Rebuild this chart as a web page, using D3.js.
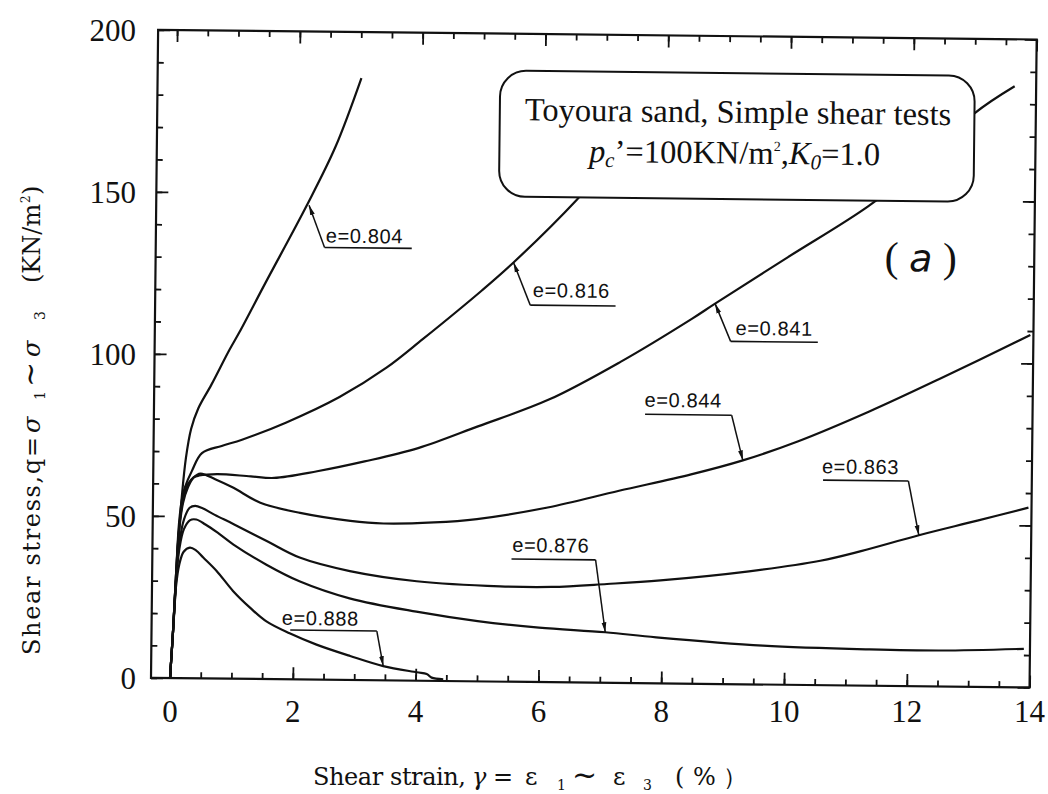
<!DOCTYPE html>
<html><head><meta charset="utf-8">
<script src="https://cdn.jsdelivr.net/npm/d3@7"></script>
<style>body{margin:0;background:#fff}</style>
</head><body>
<svg id="chart" width="1048" height="794"></svg>
<script>
// ---------- data ----------
const xTicks = [0, 2, 4, 6, 8, 10, 12, 14];
const yTicks = [0, 50, 100, 150, 200];
const xMinor = [0,0.5,1,1.5,2,2.5,3,3.5,4,4.5,5,5.5,6,6.5,7,7.5,8,8.5,9,9.5,10,10.5,11,11.5,12,12.5,13,13.5,14];
const yMinor = [0,10,20,30,40,50,60,70,80,90,100,110,120,130,140,150,160,170,180,190,200];

const seriesNames = ["e=0.804", "e=0.816", "e=0.841", "e=0.844", "e=0.863", "e=0.876", "e=0.888"];

const e0804 = [[0,0],[0.04,14],[0.07,25],[0.11,42],[0.16,56],[0.22,68],[0.3,77],[0.41,83.2],[0.62,90.6],[0.91,101.5],[1.07,107],[1.49,122.5],[2.14,146.2],[2.6,164.5],[3.01,185.8]];
const e0816 = [[0,0],[0.04,14],[0.08,32],[0.12,48],[0.17,56],[0.21,59],[0.32,64],[0.48,69.5],[0.8,71.8],[1.13,73.8],[1.84,79.2],[2.71,87.3],[3.47,96.5],[4.06,105.5],[5.0,120.5],[5.52,129.4],[6.54,149],[7.3,166]];
const e0841 = [[0,0],[0.04,14],[0.08,32],[0.12,46],[0.18,55],[0.26,60],[0.35,62],[0.44,62.6],[0.73,63.1],[1.28,62.5],[1.66,62.1],[2.36,64.3],[3.13,67.5],[4.0,71.8],[4.97,78.7],[6.12,87.2],[7.28,99.1],[8.44,112.7],[8.81,117.4],[9.99,132],[11.29,148],[12.2,162],[13.0,177],[13.65,185.5]];
const e0844 = [[0,0],[0.04,14],[0.08,32],[0.12,45],[0.18,54],[0.26,59],[0.35,62],[0.46,63.2],[0.7,61.5],[1.0,58.9],[1.44,54.4],[2.09,51.4],[2.91,49.1],[3.45,48.4],[4.27,48.9],[4.97,50.1],[6.12,53.9],[7.28,59.3],[8.45,64.6],[9.29,69.1],[10.19,75.2],[11.35,84.7],[12.51,95.2],[13.95,108.8]];
const e0863 = [[0,0],[0.04,14],[0.08,30],[0.13,42],[0.2,49],[0.29,52.6],[0.38,53.2],[0.5,52.5],[0.7,50.5],[1.01,47.7],[1.55,42.6],[2.09,37.6],[2.91,33.6],[4.0,30.7],[5.36,29.4],[6.2,29.4],[7.1,30.5],[7.97,31.8],[9.41,34.9],[10.57,38.4],[11.23,41.5],[12.17,46.6],[13.12,51.3],[13.95,55.5]];
const e0876 = [[0,0],[0.04,14],[0.08,30],[0.13,40],[0.2,46],[0.3,48.8],[0.4,49],[0.55,47.5],[0.75,45],[1.01,41.4],[1.55,35.3],[2.09,30.3],[2.91,25.2],[4.0,21.3],[5.0,18.6],[6.0,16.8],[7.08,15.6],[7.91,14.2],[9.65,12.0],[11.39,11.2],[12.55,11.1],[13.9,11.9]];
const e0888 = [[0,0],[0.04,14],[0.08,28],[0.13,35],[0.2,39],[0.3,40.3],[0.4,39.5],[0.52,37.3],[0.74,33.2],[1.01,27.1],[1.29,22],[1.56,17.8],[1.94,14.2],[2.38,10.8],[2.93,7.4],[3.47,4.4],[4.02,2.6],[4.18,2.1],[4.26,1.0],[4.45,0.5]];
const seriesData = [e0804, e0816, e0841, e0844, e0863, e0876, e0888];

// annotation labels: text anchor [x, baseline y], underline [x1, x2, y], arrow start side, arrow tip
const annTextAt = [[2.46,134.9],[5.84,118.8],[9.15,107.8],[7.68,85.3],[10.58,65.4],[5.55,40.1],[1.81,16.8]];
const annUnderline = [[2.44,3.86,133.4],[5.80,7.19,116.3],[9.07,10.49,105.8],[7.69,9.10,83.0],[10.6,11.99,63.3],[5.54,6.91,37.9],[1.95,3.36,15.2]];
const annArrowSide = ["left","left","left","right","right","right","right"];
const annTips = [[2.18,146.4],[5.52,129.4],[8.81,117.4],[9.29,69.1],[12.17,46.6],[7.08,15.6],[3.47,4.4]];

// legend box
const boxCorners = [[5.27,188.6],[13.0,149.7]];
const boxLine1 = "Toyoura sand, Simple shear tests";
const boxLine1At = [9.15,173.3];
const boxLine2At = [9.1,160.7];
const panelTag = "a";
const panelTagAt = [12.15,128];

// axis title pieces: [text, offset along text (px), size, baseline shift, italic]
const xTitlePieces = [["Shear strain,",0,24,0,0,153],["γ",159,24,0,1],["=",180,24,0,0],["ε",212,24,0,0],["1",244,14,5,0],["~",259,30,0,0],["ε",300,24,0,0],["3",330,14,5,0],["(",362,24,0,0],["%",380,24,0,0],["）",410,24,0,0]];
const yTitlePieces = [["Shear stress,q=",0,24,0,0,218],["σ",222,24,0,1],["1",255,14,5,0],["~",268,30,0,0],["σ",298,24,0,1],["3",335,14,5,0],["(KN/m",372,24,0,0],["2",452,12,-10,0],[")",460,24,0,0]];

// ---------- drawing ----------
const svg = d3.select("#chart");
const x = d3.scaleLinear().domain([0,14]).range([170, 1029.6]);
const y = d3.scaleLinear().domain([0,200]).range([678, 30]);
const frameLeft = 151;
const ink = "#111";
const serif = "'Liberation Serif', 'Times New Roman', serif";

svg.append("defs").append("marker")
  .attr("id","ah").attr("viewBox","0 0 10 6").attr("refX",10).attr("refY",3)
  .attr("markerWidth",10).attr("markerHeight",6).attr("markerUnits","userSpaceOnUse")
  .attr("orient","auto")
  .append("path").attr("d","M0,0.6 L10,3 L0,5.4 Z").attr("fill",ink);

const g = svg.append("g").attr("transform", "rotate(0.63,170,678)");

function styleAxis(sel){
  sel.select(".domain").remove();
  sel.selectAll("line").attr("stroke",ink).attr("stroke-width",1.8);
  sel.selectAll("text").remove();
}
function tickPair(axisGen, tr){
  g.append("g").attr("transform",tr).call(axisGen.tickValues(xMinor).tickSize(-6).tickFormat("")).call(styleAxis);
}
// bottom/top
[[d3.axisBottom, y(0)], [d3.axisTop, y(200)]].forEach(([gen, ty]) => {
  g.append("g").attr("transform",`translate(0,${ty})`)
    .call(gen(x).tickValues(xMinor).tickSize(-6)).call(styleAxis);
  g.append("g").attr("transform",`translate(0,${ty})`)
    .call(gen(x).tickValues(xTicks).tickSize(-12)).call(styleAxis);
});
// left/right
[[d3.axisLeft, frameLeft], [d3.axisRight, x(14)]].forEach(([gen, tx]) => {
  g.append("g").attr("transform",`translate(${tx},0)`)
    .call(gen(y).tickValues(yMinor).tickSize(-6)).call(styleAxis);
  g.append("g").attr("transform",`translate(${tx},0)`)
    .call(gen(y).tickValues(yTicks).tickSize(-12)).call(styleAxis);
});

// frame
g.append("rect").attr("x",frameLeft).attr("y",y(200))
  .attr("width",x(14)-frameLeft).attr("height",y(0)-y(200))
  .attr("fill","none").attr("stroke",ink).attr("stroke-width",2.2);

// tick labels (upright)
svg.append("g").selectAll("text").data(xTicks).join("text")
  .attr("x",d=>x(d)).attr("y",722).attr("text-anchor","middle")
  .attr("font-family",serif).attr("font-size",31).attr("fill",ink).text(d=>d);
svg.append("g").selectAll("text").data(yTicks).join("text")
  .attr("x",frameLeft-15).attr("y",d=>y(d)).attr("dy","0.34em").attr("text-anchor","end")
  .attr("font-family",serif).attr("font-size",31).attr("fill",ink).text(d=>d);

// curves
const line = d3.line().x(d=>x(d[0])).y(d=>y(d[1])).curve(d3.curveCatmullRom.alpha(0.5));
g.selectAll("path.curve").data(seriesData).join("path")
  .attr("class","curve").attr("d",line)
  .attr("fill","none").attr("stroke",ink).attr("stroke-width",2.2)
  .attr("stroke-linejoin","round");

// annotations
const ann = g.selectAll("g.ann").data(seriesNames).join("g").attr("class","ann");
ann.append("text")
  .attr("x",(d,i)=>x(annTextAt[i][0])).attr("y",(d,i)=>y(annTextAt[i][1]))
  .attr("font-family","'Liberation Sans', Arial, sans-serif").attr("font-size",20)
  .attr("letter-spacing",0.6).attr("fill",ink).text(d=>d);
ann.append("line")
  .attr("x1",(d,i)=>x(annUnderline[i][0])).attr("x2",(d,i)=>x(annUnderline[i][1]))
  .attr("y1",(d,i)=>y(annUnderline[i][2])).attr("y2",(d,i)=>y(annUnderline[i][2]))
  .attr("stroke",ink).attr("stroke-width",1.6);
ann.append("line")
  .attr("x1",(d,i)=>x(annArrowSide[i]==="left"?annUnderline[i][0]:annUnderline[i][1]))
  .attr("y1",(d,i)=>y(annUnderline[i][2]))
  .attr("x2",(d,i)=>x(annTips[i][0])).attr("y2",(d,i)=>y(annTips[i][1]))
  .attr("stroke",ink).attr("stroke-width",1.5).attr("marker-end","url(#ah)");

// legend box
g.append("rect")
  .attr("x",x(boxCorners[0][0])).attr("y",y(boxCorners[0][1]))
  .attr("width",x(boxCorners[1][0])-x(boxCorners[0][0]))
  .attr("height",y(boxCorners[1][1])-y(boxCorners[0][1]))
  .attr("rx",26).attr("ry",26)
  .attr("fill","#fff").attr("stroke",ink).attr("stroke-width",2);
g.append("text").attr("x",x(boxLine1At[0])).attr("y",y(boxLine1At[1]))
  .attr("text-anchor","middle").attr("font-family",serif).attr("font-size",32.5).attr("fill",ink)
  .text(boxLine1);
const t2 = g.append("text").attr("x",x(boxLine2At[0])).attr("y",y(boxLine2At[1]))
  .attr("text-anchor","middle").attr("font-family",serif).attr("font-size",32.5).attr("fill",ink);
t2.append("tspan").attr("font-style","italic").text("p");
t2.append("tspan").attr("font-style","italic").attr("font-size",21).attr("dy",5).text("c");
t2.append("tspan").attr("dy",-5).text("’=100KN/m");
t2.append("tspan").attr("font-size",14).attr("dy",-13).text("2");
t2.append("tspan").attr("dy",13).text(",");
t2.append("tspan").attr("font-style","italic").text("K");
t2.append("tspan").attr("font-style","italic").attr("font-size",21).attr("dy",5).text("0");
t2.append("tspan").attr("dy",-5).text("=1.0");

// panel tag
const pt = g.append("text").attr("x",x(panelTagAt[0])).attr("y",y(panelTagAt[1]))
  .attr("text-anchor","middle").attr("font-family",serif).attr("font-size",42).attr("fill",ink);
pt.append("tspan").text("( ");
pt.append("tspan").attr("font-style","italic").attr("font-family","'DejaVu Sans', sans-serif").attr("font-size",38).text(panelTag);
pt.append("tspan").text(" )");

// axis titles
const titleFont = "'DejaVu Serif', 'Liberation Serif', serif";
function drawTitle(parent, pieces){
  parent.selectAll("text").data(pieces).join("text")
    .attr("x",d=>d[1]).attr("y",d=>d[3])
    .attr("font-family",titleFont).attr("font-size",d=>d[2])
    .attr("font-style",d=>d[4]?"italic":"normal").attr("fill",ink)
    .each(function(d){ if(d[5]) d3.select(this).attr("textLength",d[5]).attr("lengthAdjust","spacing"); })
    .text(d=>d[0]);
}
drawTitle(svg.append("g").attr("transform","translate(313,785)"), xTitlePieces);
drawTitle(svg.append("g").attr("transform","translate(40,655) rotate(-90)"), yTitlePieces);
</script>
</body></html>
